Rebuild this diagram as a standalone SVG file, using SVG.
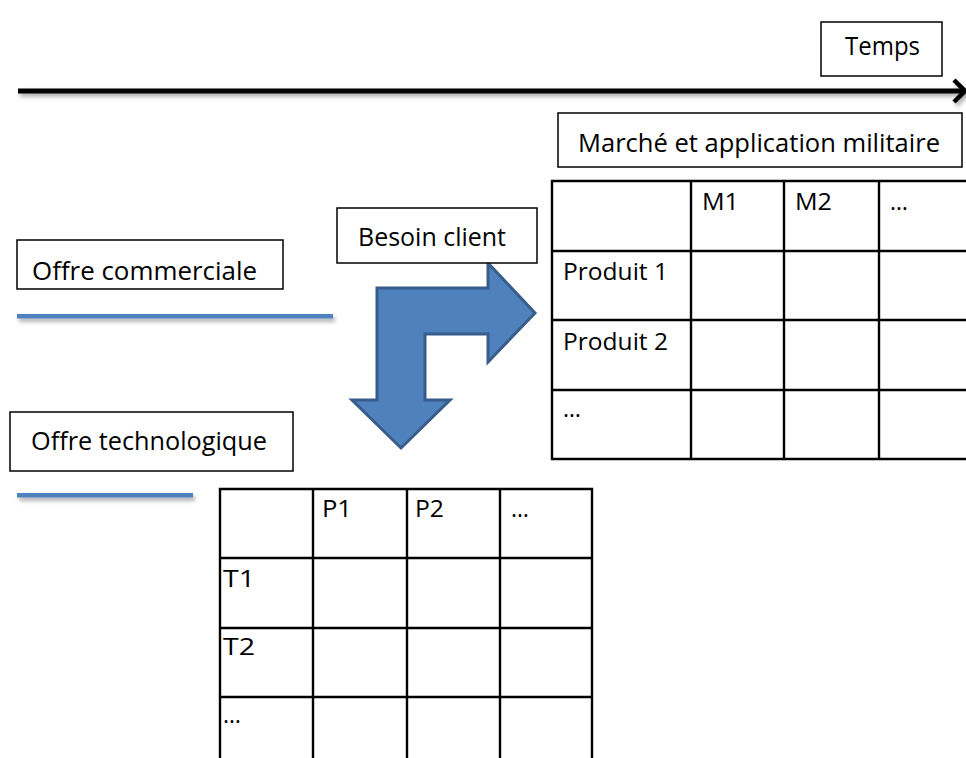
<svg xmlns="http://www.w3.org/2000/svg" width="966" height="758" viewBox="0 0 966 758">
<style>
text{font-family:"Open Sans","Liberation Sans",sans-serif;fill:#000}
.lbl{font-size:25px}
.cell{font-size:23px}
.box{fill:#fff;stroke:#000;stroke-width:1.5}
.grid{fill:none;stroke:#000;stroke-width:2.4}
.blue{fill:#4F81BD}
</style>
<defs>
<filter id="sh" filterUnits="userSpaceOnUse" x="0" y="0" width="966" height="758">
<feDropShadow dx="2" dy="3" stdDeviation="2" flood-color="#000" flood-opacity="0.35"/>
</filter>
</defs>
<rect width="966" height="758" fill="#fff"/>

<g id="connectors">
<g id="time-axis" filter="url(#sh)">
<line x1="18" y1="91" x2="962" y2="91" stroke="#000" stroke-width="5"/>
<polyline points="954,80 965,91 954,102" fill="none" stroke="#000" stroke-width="4.5"/>
</g>
<path id="bent-arrow" d="M535,313 L488,263 L488,288 L377,288 L377,400 L352,400 L401,448 L450,400 L425,400 L425,334 L488,334 L488,362 Z" fill="#4F81BD" stroke="#385D8A" stroke-width="3" stroke-linejoin="miter"/>
</g>

<g id="temps">
<rect class="box" x="821" y="22" width="121" height="54"/>
<text class="lbl" x="845" y="55" textLength="75" lengthAdjust="spacingAndGlyphs">Temps</text>
</g>

<g id="marche">
<rect class="box" x="558" y="113" width="404" height="54"/>
<text class="lbl" x="578" y="152" textLength="362" lengthAdjust="spacingAndGlyphs">Marché et application militaire</text>
</g>

<g id="besoin">
<rect class="box" x="337" y="208" width="200" height="55"/>
<text class="lbl" x="358" y="246" textLength="148" lengthAdjust="spacingAndGlyphs">Besoin client</text>
</g>

<g id="offre-commerciale">
<rect class="box" x="17" y="240" width="266" height="49"/>
<text class="lbl" x="32" y="280" textLength="225" lengthAdjust="spacingAndGlyphs">Offre commerciale</text>
<rect class="blue" x="17" y="314" width="316" height="4.5" filter="url(#sh)"/>
</g>

<g id="offre-technologique">
<rect class="box" x="10" y="412" width="283" height="59"/>
<text class="lbl" x="31" y="450" textLength="236" lengthAdjust="spacingAndGlyphs">Offre technologique</text>
<rect class="blue" x="17" y="493" width="176" height="4.5" filter="url(#sh)"/>
</g>

<g id="table-marche">
<path class="grid" d="M970,181 H552 V459 H970 M552,251 H970 M552,320 H970 M552,390 H970 M691,181 V459 M784,181 V459 M879,181 V459"/>
<text class="cell" x="702" y="210" textLength="37" lengthAdjust="spacingAndGlyphs">M1</text>
<text class="cell" x="795" y="210" textLength="37" lengthAdjust="spacingAndGlyphs">M2</text>
<text class="cell" x="890" y="210">…</text>
<text class="cell" x="563" y="280" textLength="105" lengthAdjust="spacingAndGlyphs">Produit 1</text>
<text class="cell" x="563" y="350" textLength="105" lengthAdjust="spacingAndGlyphs">Produit 2</text>
<text class="cell" x="563" y="417">…</text>
</g>

<g id="table-techno">
<path class="grid" d="M220,762 V489 H592 V762 M220,558 H592 M220,628 H592 M220,697 H592 M313,489 V762 M407,489 V762 M500,489 V762"/>
<text class="cell" x="322" y="517" textLength="30" lengthAdjust="spacingAndGlyphs">P1</text>
<text class="cell" x="415" y="517" textLength="29" lengthAdjust="spacingAndGlyphs">P2</text>
<text class="cell" x="511" y="517">…</text>
<text class="cell" x="223" y="587" textLength="32" lengthAdjust="spacingAndGlyphs">T1</text>
<text class="cell" x="223" y="655" textLength="32" lengthAdjust="spacingAndGlyphs">T2</text>
<text class="cell" x="223" y="723">…</text>
</g>
</svg>
